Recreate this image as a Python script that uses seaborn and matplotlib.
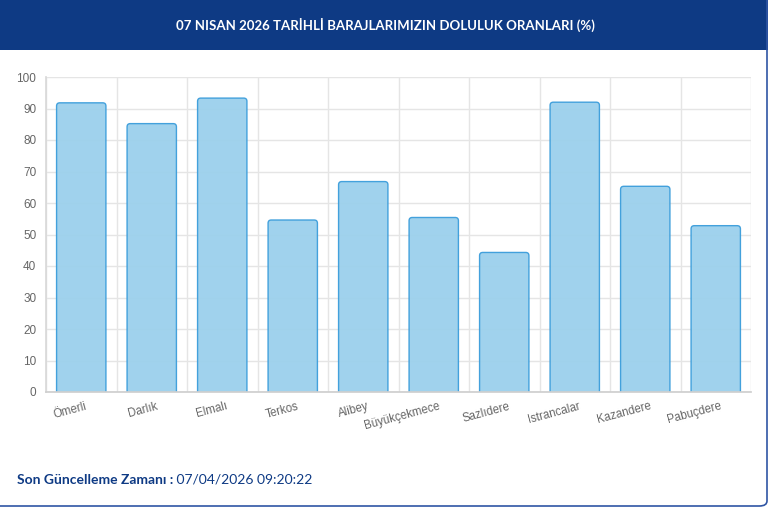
import numpy as np
import pandas as pd
import seaborn as sns
import matplotlib.pyplot as plt
import matplotlib.transforms as mtrans
from matplotlib.patches import FancyBboxPatch, Rectangle

# dam fill levels (%)
dams = ['Ömerli', 'Darlık', 'Elmalı', 'Terkos', 'Alibey', 'Büyükçekmece',
        'Sazlıdere', 'Istrancalar', 'Kazandere', 'Pabuçdere']
fill_pct = [91.8, 85.2, 93.3, 54.6, 66.8, 55.4, 44.3, 92.0, 65.3, 52.8]
y_ticks = list(range(0, 101, 10))

title = '07 NISAN 2026 TARİHLİ BARAJLARIMIZIN DOLULUK ORANLARI (%)'
footer_label = 'Son Güncelleme Zamanı :'
footer_value = ' 07/04/2026 09:20:22'

NAVY = '#0e3a84'
GRID = '#e5e5e5'
BAR_FILL = '#9bd0ec'
BAR_EDGE = '#3b9ddb'

sns.set_theme(style='white')
plt.rcParams['font.family'] = ['Liberation Sans', 'DejaVu Sans']

W, H = 770, 508
fig = plt.figure(figsize=(W / 100, H / 100), dpi=100)
fig.patch.set_facecolor('white')

# header band and card outline
fig.patches.append(Rectangle((0, 1 - 50 / H), 768 / W, 50 / H, transform=fig.transFigure,
                             facecolor=NAVY, edgecolor='none', zorder=0))
fig.patches.append(FancyBboxPatch((-20 / W, 2 / H), 787 / W, 1.1, transform=fig.transFigure,
                                  boxstyle='round,pad=0,rounding_size=0.01',
                                  facecolor='none', edgecolor='#2f55a4', lw=1.2, zorder=0))
fig.text(385 / W, 1 - 25 / H, title, color='white', fontsize=9.5, fontweight='bold',
         ha='center', va='center', family=['Lato', 'DejaVu Sans'])

ax = fig.add_axes([46 / W, (H - 392) / H, 705 / W, 315 / H])
df = pd.DataFrame({'dam': dams, 'fill': fill_pct})
sns.barplot(data=df, x='dam', y='fill', ax=ax, width=0.7, color=BAR_FILL, zorder=2)

# swap the plain bars for ones with rounded corners
px_x = 705 / len(dams)
px_y = 315 / 100
for p in list(ax.patches):
    x0, w, h = p.get_x(), p.get_width(), p.get_height()
    p.set_visible(False)
    rb = FancyBboxPatch((x0, -3), w, h + 3, boxstyle='round,pad=0,rounding_size=0.045',
                        mutation_aspect=px_x / px_y, facecolor=BAR_FILL, edgecolor=BAR_EDGE,
                        lw=1.0, alpha=0.95, zorder=2, clip_on=True)
    ax.add_patch(rb)

ax.set_xlim(-0.5, len(dams) - 0.5)
ax.set_ylim(0, 100)
ax.set_yticks(y_ticks)
ax.set_xlabel('')
ax.set_ylabel('')

ax.set_xticks(np.arange(-0.5, len(dams)), minor=True)
ax.grid(False)
ax.grid(axis='y', which='major', color=GRID, lw=1, zorder=0)
ax.grid(axis='x', which='minor', color=GRID, lw=1, zorder=0)
ax.tick_params(axis='y', length=5, color=GRID, width=1, pad=2, labelsize=8.5, labelcolor='#666666')
ax.tick_params(axis='x', which='major', length=0, pad=6, labelsize=8.3, labelcolor='#666666')
ax.tick_params(axis='x', which='minor', length=3.6, color=GRID, width=1)

# rotated labels ending near the bar centre
offset = mtrans.ScaledTranslation(4 / 100, 0, fig.dpi_scale_trans)
for lbl in ax.get_xticklabels():
    lbl.set_rotation(15)
    lbl.set_ha('right')
    lbl.set_rotation_mode('anchor')
    lbl.set_transform(lbl.get_transform() + offset)

for side in ['top', 'right']:
    ax.spines[side].set_visible(False)
ax.spines['left'].set_color('#d9d9d9')
ax.spines['bottom'].set_color('#cfcfcf')

t1 = fig.text(17 / W, 1 - 480 / H, footer_label, color=NAVY, fontsize=10, fontweight='bold',
              va='center', family=['Lato', 'DejaVu Sans'])
fig.canvas.draw()
ext = t1.get_window_extent()
fig.text(ext.x1 / W, 1 - 480 / H, footer_value, color=NAVY, fontsize=10, va='center',
         family=['Lato', 'DejaVu Sans'])

fig.savefig('out.png', dpi=100)
